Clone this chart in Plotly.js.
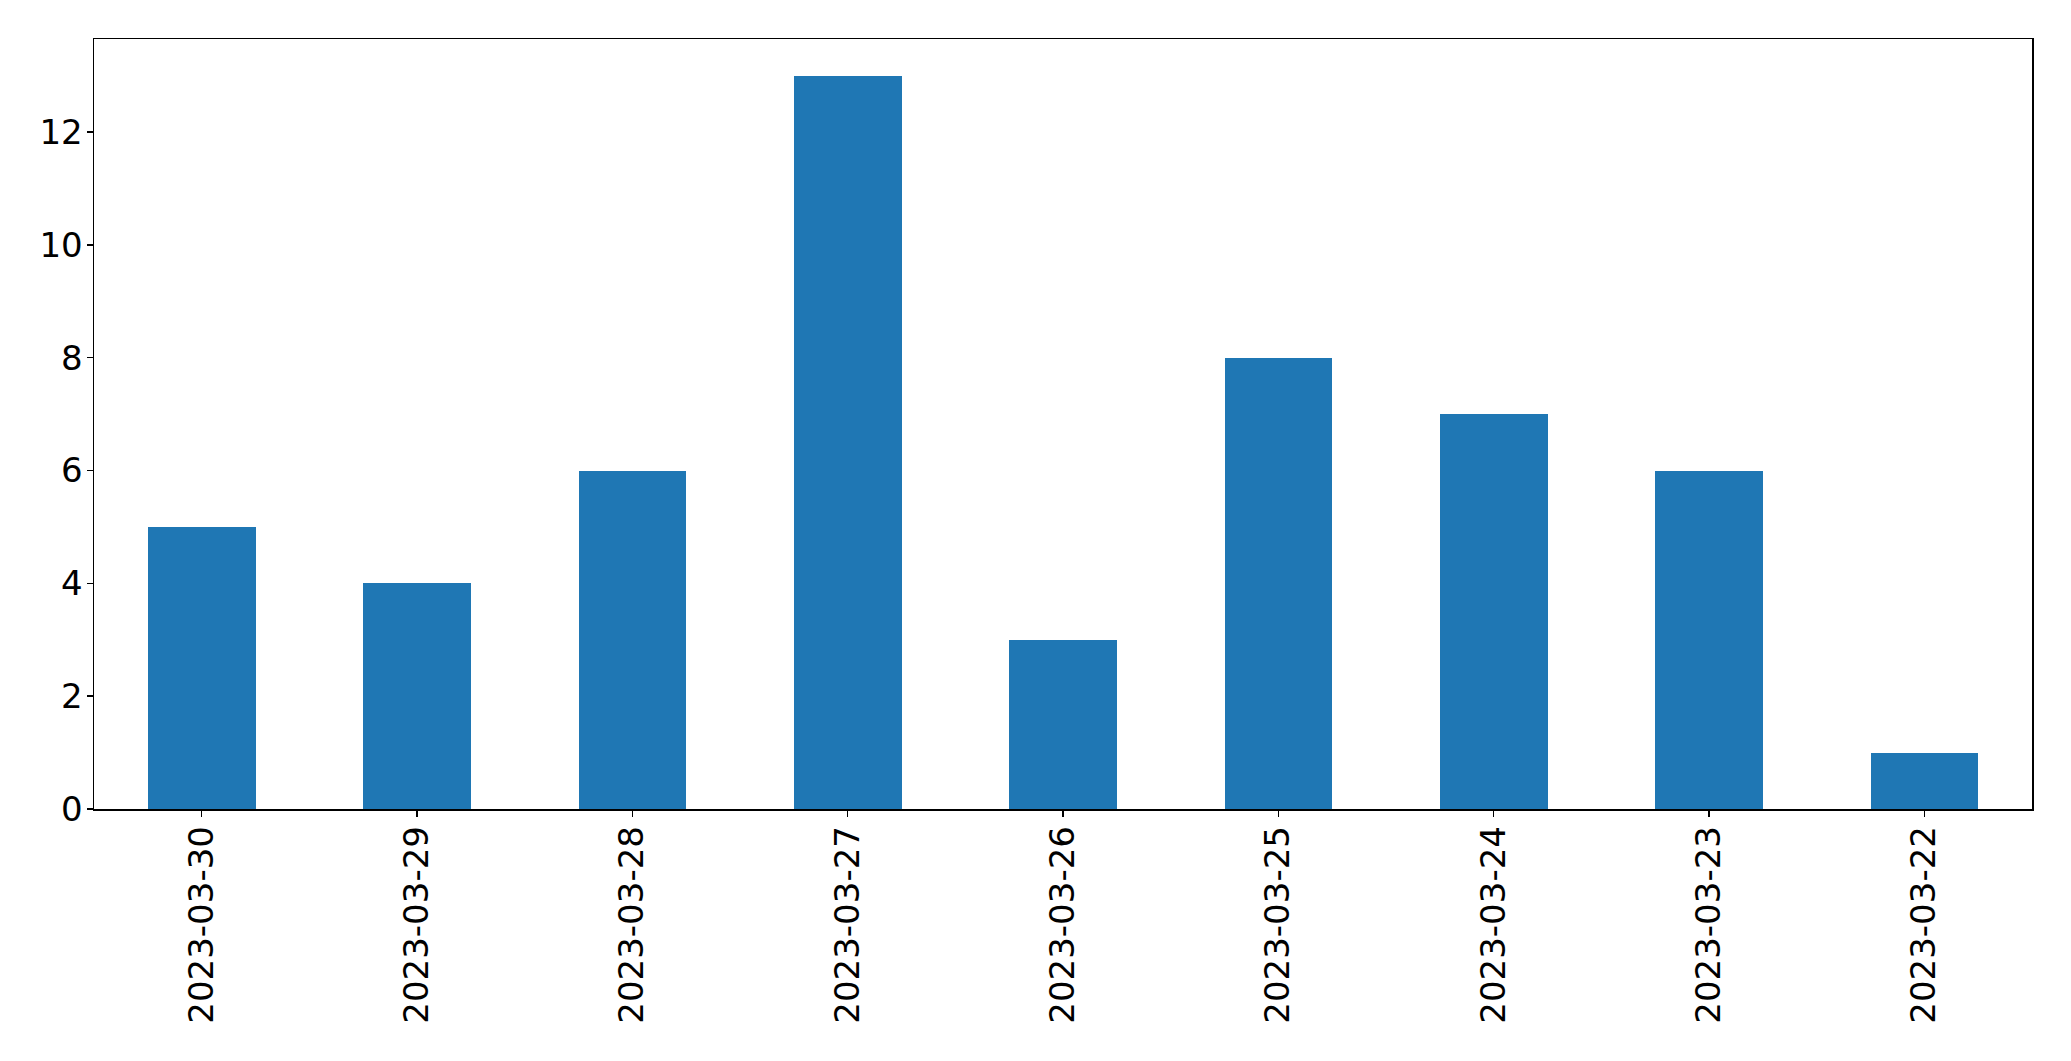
<!DOCTYPE html>
<html>
<head>
<meta charset="utf-8">
<script src="https://cdn.plot.ly/plotly-3.0.1.min.js"></script>
<style>html,body{margin:0;padding:0;background:#fff;}#chart{width:2071px;height:1061px;}</style>
</head>
<body>
<div id="chart"></div>
<script>
var dates = ["2023-03-30","2023-03-29","2023-03-28","2023-03-27","2023-03-26","2023-03-25","2023-03-24","2023-03-23","2023-03-22"];
var counts = [5, 4, 6, 13, 3, 8, 7, 6, 1];
var yTicks = [0, 2, 4, 6, 8, 10, 12];

var font = {family: "DejaVu Sans", size: 34, color: "#000"};
Plotly.newPlot("chart", [{
  type: "bar",
  x: dates,
  y: counts,
  width: 0.5,
  marker: {color: "#1f77b4", line: {width: 0}},
  hoverinfo: "x+y"
}], {
  width: 2071, height: 1061,
  margin: {l: 94, r: 39, t: 39, b: 252, pad: 0},
  paper_bgcolor: "#fff", plot_bgcolor: "#fff",
  showlegend: false,
  bargap: 0,
  font: font,
  xaxis: {
    type: "category",
    range: [-0.5, 8.5],
    tickangle: -90,
    showline: true, mirror: true, linecolor: "#000", linewidth: 1.5,
    ticks: "outside", ticklen: 6, tickwidth: 1.5, tickcolor: "#000",
    ticklabelstandoff: -4,
    showgrid: false, zeroline: false,
    tickfont: font,
    automargin: false
  },
  yaxis: {
    range: [0, 13.65],
    tickvals: yTicks,
    ticktext: yTicks.map(String),
    showline: true, mirror: true, linecolor: "#000", linewidth: 1.5,
    ticks: "outside", ticklen: 6, tickwidth: 1.5, tickcolor: "#000",
    ticklabelstandoff: -3,
    showgrid: false, zeroline: false,
    tickfont: font,
    automargin: false
  }
}, {displayModeBar: false, staticPlot: true});
</script>
</body>
</html>
